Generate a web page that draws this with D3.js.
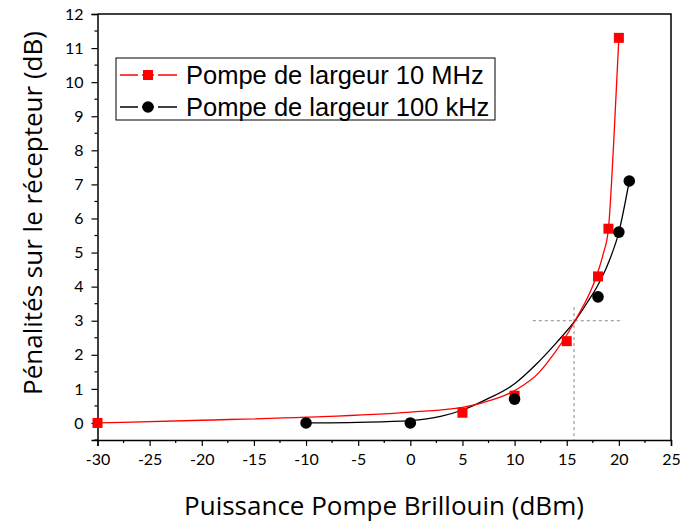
<!DOCTYPE html>
<html>
<head>
<meta charset="utf-8">
<script src="https://cdn.jsdelivr.net/npm/d3@7"></script>
<style>
  body { margin: 0; background: #fff; }
  svg { display: block; }
</style>
</head>
<body>
<svg id="chart" width="681" height="524"></svg>
<script>
"use strict";

// measured points
var redX = [-30, 5, 10, 15, 18, 19, 20];
var redY = [0, 0.3, 0.8, 2.4, 4.3, 5.7, 11.3];
var blackX = [-10, 0, 10, 18, 20, 21];
var blackY = [0, 0, 0.7, 3.7, 5.6, 7.1];

// fitted curves
var redFitX = [-30, -20, -10, 0, 5, 7, 10, 12.4, 13, 15.8, 17.9, 18.5, 19, 19.5, 20];
var redFitY = [0, 0.08, 0.17, 0.32, 0.46, 0.6, 0.95, 1.5, 1.72, 3.0, 4.35, 4.96, 5.7, 8.2, 11.3];
var blackFitX = [-10, -5, 0, 3, 5, 7, 10, 12, 14, 15.8, 17, 18, 19, 20, 21];
var blackFitY = [0, 0.02, 0.07, 0.2, 0.38, 0.65, 1.15, 1.7, 2.35, 3.0, 3.55, 4.05, 4.7, 5.6, 7.1];

// dashed guide lines
var guideH = { x1: 11.75, x2: 20.4, y: 3 };
var guideV = { x: 15.7, y1: 3.4, y2: -0.5 };

var seriesNames = ["Pompe de largeur 10 MHz", "Pompe de largeur 100 kHz"];
var xTicks = [-30, -25, -20, -15, -10, -5, 0, 5, 10, 15, 20, 25];
var yTicks = [0, 1, 2, 3, 4, 5, 6, 7, 8, 9, 10, 11, 12];

function drawChart() {
  var svg = d3.select("#chart");
  var left = 97.5, right = 671, plotTop = 14, bottom = 440;

  var x = d3.scaleLinear().domain([-30, 25]).range([left, right]);
  var y = d3.scaleLinear().domain([-0.5, 12]).range([bottom, plotTop]);

  var tickFont = "Lato, 'Open Sans', sans-serif";
  var titleFont = "'Open Sans', Lato, sans-serif";

  // frame top/right
  svg.append("path")
    .attr("d", "M" + left + "," + plotTop + "H" + right + "V" + bottom)
    .style("fill", "none")
    .style("stroke", "#000")
    .style("stroke-width", 1.5);

  // minor ticks
  var xMinor = d3.range(-27.5, 25, 5);
  var yMinor = d3.range(-0.5, 12, 1);

  var xAxis = svg.append("g")
    .attr("transform", "translate(0," + bottom + ")")
    .call(d3.axisBottom(x).tickValues(xTicks).tickSize(6).tickPadding(8)
      .tickFormat(function (d) { return d; }));
  xAxis.selectAll(".tick text").style("font-size", "16px").style("font-family", tickFont);
  xAxis.select(".domain").style("stroke-width", 1.5);
  xAxis.selectAll(".tick line").style("stroke-width", 1.2);
  svg.append("g").selectAll("line")
    .data(xMinor).enter().append("line")
    .attr("x1", function (d) { return x(d); })
    .attr("x2", function (d) { return x(d); })
    .attr("y1", bottom).attr("y2", bottom + 3)
    .style("stroke", "#000").style("stroke-width", 1.2);

  var yAxis = svg.append("g")
    .attr("transform", "translate(" + left + ",0)")
    .call(d3.axisLeft(y).tickValues(yTicks).tickSize(6).tickPadding(8));
  yAxis.selectAll(".tick text").style("font-size", "16px").style("font-family", tickFont);
  yAxis.select(".domain").style("stroke-width", 1.5);
  yAxis.selectAll(".tick line").style("stroke-width", 1.2);
  svg.append("g").selectAll("line")
    .data(yMinor).enter().append("line")
    .attr("x1", left - 3).attr("x2", left)
    .attr("y1", function (d) { return y(d); })
    .attr("y2", function (d) { return y(d); })
    .style("stroke", "#000").style("stroke-width", 1.2);

  // axis titles
  svg.append("text")
    .text("Puissance Pompe Brillouin (dBm)")
    .attr("x", 384).attr("y", 515)
    .attr("text-anchor", "middle")
    .style("font-family", titleFont)
    .style("font-size", "26px");

  svg.append("text")
    .text("Pénalités sur le récepteur (dB)")
    .attr("transform", "translate(42,213) rotate(-90)")
    .attr("text-anchor", "middle")
    .style("font-family", titleFont)
    .style("font-size", "26px");

  // dashed guides
  svg.append("line")
    .attr("x1", x(guideH.x1)).attr("x2", x(guideH.x2))
    .attr("y1", y(guideH.y)).attr("y2", y(guideH.y))
    .style("stroke", "#888").style("stroke-width", 1).style("stroke-dasharray", "3,3");
  svg.append("line")
    .attr("x1", x(guideV.x)).attr("x2", x(guideV.x))
    .attr("y1", y(guideV.y1)).attr("y2", y(guideV.y2))
    .style("stroke", "#888").style("stroke-width", 1).style("stroke-dasharray", "3,3");

  // fitted curves
  var line = d3.line()
    .x(function (d) { return x(d[0]); })
    .y(function (d) { return y(d[1]); })
    .curve(d3.curveMonotoneX);

  svg.append("path")
    .datum(blackFitX.map(function (v, i) { return [v, blackFitY[i]]; }))
    .attr("d", line)
    .style("fill", "none").style("stroke", "#000").style("stroke-width", 1.3);

  svg.append("path")
    .datum(redFitX.map(function (v, i) { return [v, redFitY[i]]; }))
    .attr("d", line)
    .style("fill", "none").style("stroke", "#ff0000").style("stroke-width", 1.3);

  // markers
  svg.append("g").selectAll("rect")
    .data(redX.map(function (v, i) { return [v, redY[i]]; }))
    .enter().append("rect")
    .attr("x", function (d) { return x(d[0]) - 5; })
    .attr("y", function (d) { return y(d[1]) - 5; })
    .attr("width", 10).attr("height", 10)
    .style("fill", "#ff0000");

  svg.append("g").selectAll("circle")
    .data(blackX.map(function (v, i) { return [v, blackY[i]]; }))
    .enter().append("circle")
    .attr("cx", function (d) { return x(d[0]); })
    .attr("cy", function (d) { return y(d[1]); })
    .attr("r", 5.8)
    .style("fill", "#000");

  // legend
  var legend = svg.append("g");
  legend.append("rect")
    .attr("x", 116).attr("y", 58).attr("width", 379).attr("height", 62)
    .style("fill", "#fff").style("stroke", "#000").style("stroke-width", 1);

  var rows = [75, 107];
  var colors = ["#ff0000", "#000"];
  rows.forEach(function (ry, i) {
    legend.append("line")
      .attr("x1", 120).attr("x2", 177).attr("y1", ry).attr("y2", ry)
      .style("stroke", colors[i]).style("stroke-width", 1.3);
    // white gaps around the marker
    legend.append("line")
      .attr("x1", 138).attr("x2", 142).attr("y1", ry).attr("y2", ry)
      .style("stroke", "#fff").style("stroke-width", 3);
    legend.append("line")
      .attr("x1", 154).attr("x2", 158).attr("y1", ry).attr("y2", ry)
      .style("stroke", "#fff").style("stroke-width", 3);
    if (i === 0) {
      legend.append("rect")
        .attr("x", 148 - 5).attr("y", ry - 5).attr("width", 10).attr("height", 10)
        .style("fill", "#ff0000");
    } else {
      legend.append("circle")
        .attr("cx", 148).attr("cy", ry).attr("r", 5.8).style("fill", "#000");
    }
    legend.append("text")
      .text(seriesNames[i])
      .attr("x", 186).attr("y", ry + 9)
      .style("font-family", "'Liberation Sans', Arial, sans-serif")
      .style("font-size", "25.5px");
  });
}

drawChart();
</script>
</body>
</html>
